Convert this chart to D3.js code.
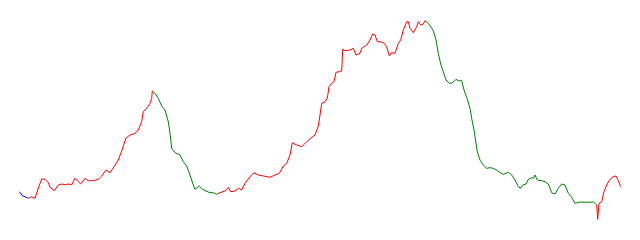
<!DOCTYPE html>
<html>

<head>
  <meta charset="utf-8">
  <title>Trend coloured line</title>
  <style>
    body { margin: 0; background: #fff; }
    svg { display: block; }
  </style>
</head>

<body>
  <svg width="640" height="240"></svg>
  <script src="https://d3js.org/d3.v7.min.js"></script>
  <script>
    // 1. data
    var days = [
      0.3, 3.7, 6, 9.3, 12.7, 16, 19.3, 22.7, 26, 29.3,
      31, 35.3, 39.3, 42.7, 46, 49.3, 52.7, 56, 59.3, 61.7,
      66, 69.3, 74.3, 79.3, 82.7, 87, 91, 95, 99.3, 103,
      107, 111, 116, 119.3, 122.7, 124.3, 127.7, 131, 132.7, 133.3,
      136, 139.3, 142.7, 146, 149.3, 151, 152.7, 156, 161, 164.3,
      167.7, 171, 174.3, 176, 180.3, 183.7, 187, 191, 194.3, 197.7,
      201, 206, 209.3, 211.7, 216, 219.3, 222.7, 226, 231, 235,
      239.3, 244.3, 251, 256, 260.3, 264.3, 267.7, 271, 273.3, 277.7,
      282.7, 287.7, 292.7, 296, 299.3, 301, 302.7, 306, 308.3, 310,
      312.7, 315, 317, 320.3, 322.7, 323.7, 326, 331, 334.3, 337,
      341, 342.7, 347.7, 351, 353.7, 356, 358.3, 361, 364.3, 367.7,
      370.3, 372.7, 376, 379.3, 381.7, 384.3, 387.7, 389.3, 391, 394.3,
      397.7, 399.3, 401.7, 404.3, 406, 409.3, 414.3, 417, 419.3, 421.7,
      424.3, 427, 430.3, 433.7, 437, 439.3, 442.7, 445, 447.7, 451,
      453, 455, 457, 458.3, 461, 464.3, 467.7, 471, 474.3, 477.7,
      481, 484.3, 489.3, 492.7, 496, 499.3, 501.7, 503.7, 507, 509.3,
      512.7, 514.3, 516, 518.3, 522.7, 526, 529.3, 532.7, 536, 539.3,
      542.7, 546, 549.3, 552.7, 556, 561, 567.7, 574.3, 576, 577.7,
      578.7, 580, 582.7, 585, 587.7, 591, 594.3, 597, 599.3, 601.7
    ];
    var values = [
      28.3, 24, 23.3, 21.7, 23.3, 21.7, 32, 41, 40.7, 37.3,
      32.7, 29.3, 35, 36, 35.3, 36, 35.3, 41.7, 38.3, 36,
      41.7, 39.3, 39.3, 40.7, 44, 50, 47.3, 53.3, 60, 70,
      82, 85, 86.7, 90, 98.3, 108.3, 111.7, 116.7, 121.7, 129,
      126.7, 121.7, 114, 110, 98.3, 86.7, 71.7, 67.3, 65, 58.3,
      54, 45, 35, 30.7, 34, 30.7, 29, 27.3, 27.3, 25.7,
      27.3, 29, 32.7, 28.3, 29, 31.7, 30, 36.7, 43.3, 47.3,
      45, 44, 42.7, 45, 46.7, 54, 56.7, 65, 77.3, 75,
      73.3, 78.3, 82.7, 85, 94, 105, 116.7, 118.3, 121.7, 133.3,
      136.7, 138.3, 147.7, 148.3, 149, 170.7, 169.3, 170, 171.7, 165,
      166.7, 171.7, 175, 180, 186, 185, 178.3, 178.3, 177.3, 173.3,
      164, 167.3, 166.7, 176.7, 180, 190, 198.3, 198.3, 191.7, 187.3,
      193.3, 198.3, 195, 196, 199.3, 196.7, 189.3, 180, 166.7, 156,
      148.3, 140, 136.7, 137.3, 140.7, 139.3, 139.3, 130, 122.7, 111.7,
      100, 90, 76.7, 68.3, 60, 55, 51.7, 52.3, 51.7, 50,
      47.3, 45.7, 47.7, 45, 40, 33.3, 31.7, 35, 36, 40.7,
      42.3, 41.7, 45, 40, 39.3, 38.3, 36, 27.3, 26, 31.7,
      36, 35, 26.7, 22.7, 16.7, 18, 17.7, 18, 16.7, 15,
      0.7, 16.7, 18.3, 28.3, 35, 40.7, 43.3, 44, 39.3, 33.3
    ];

    // trend regimes: start day, end day, colour
    var regimeStarts = [0, 9.3, 133.3, 197.7, 406, 577.7];
    var regimeEnds = [9.3, 133.3, 197.7, 406, 577.7, 601.7];
    var regimeColors = ["blue", "red", "green", "red", "green", "red"];

    var points = days.map(function (d, i) {
      return { day: d, value: values[i] };
    });

    // 2. scales
    var svg = d3.select("svg");
    var x = d3.scaleLinear().domain([0, 602]).range([19, 621]);
    var y = d3.scaleLinear().domain([0, 200]).range([220, 20]);

    var line = d3.line()
      .x(function (d) { return x(d.day); })
      .y(function (d) { return y(d.value); });

    // 3. one path per regime, sharing the boundary points
    var regimes = regimeStarts.map(function (s, i) {
      return {
        color: regimeColors[i],
        pts: points.filter(function (p) {
          return p.day >= s && p.day <= regimeEnds[i];
        })
      };
    });

    svg.selectAll("path.seg")
      .data(regimes)
      .enter()
      .append("path")
      .attr("class", "seg")
      .attr("fill", "none")
      .attr("stroke", function (d) { return d.color; })
      .attr("stroke-width", 1)
      .attr("d", function (d) { return line(d.pts); });
  </script>
</body>

</html>
